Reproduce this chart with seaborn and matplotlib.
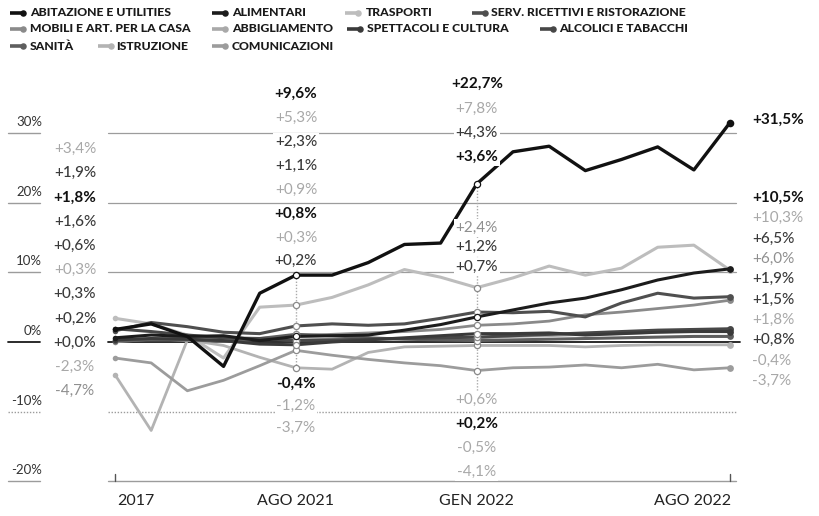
import numpy as np
import pandas as pd
import matplotlib
matplotlib.use("Agg")
import matplotlib.pyplot as plt
import seaborn as sns

# ---------------- data ----------------
categories = ["ABITAZIONE E UTILITIES", "ALIMENTARI", "TRASPORTI", "SERV. RICETTIVI E RISTORAZIONE",
              "MOBILI E ART. PER LA CASA", "ABBIGLIAMENTO", "SPETTACOLI E CULTURA", "ALCOLICI E TABACCHI",
              "SANITÀ", "ISTRUZIONE", "COMUNICAZIONI"]
periods = list(range(18))
tick_periods = [0, 5, 10, 17]
tick_labels = ["2017", "AGO 2021", "GEN 2022", "AGO 2022"]

abitazione = [1.8, 2.6, 0.8, -3.5, 7.0, 9.6, 9.6, 11.4, 14.0, 14.2, 22.7, 27.3, 28.1, 24.6, 26.2, 28.0, 24.7, 31.5]
alimentari = [0.6, 1.0, 0.8, 0.9, 0.2, 0.8, 0.9, 1.0, 1.7, 2.5, 3.6, 4.6, 5.6, 6.3, 7.5, 8.9, 9.9, 10.5]
trasporti = [3.4, 2.6, 1.0, -2.3, 5.0, 5.3, 6.4, 8.2, 10.4, 9.3, 7.8, 9.2, 10.9, 9.6, 10.6, 13.6, 13.9, 10.3]
serv_ricettivi = [1.6, 2.8, 2.2, 1.4, 1.2, 2.3, 2.6, 2.4, 2.6, 3.4, 4.3, 4.2, 4.4, 3.6, 5.6, 7.0, 6.3, 6.5]
mobili = [0.0, 0.4, 0.6, 0.3, 0.5, 0.9, 1.1, 1.3, 1.5, 1.8, 2.4, 2.6, 3.0, 3.9, 4.3, 4.8, 5.3, 6.0]
abbigliamento = [0.3, 0.5, 0.2, 0.1, 0.4, 0.3, 0.4, 0.5, 0.5, 0.6, 0.6, 0.8, 0.9, 1.1, 1.2, 1.4, 1.6, 1.8]
spettacoli = [0.3, 0.5, 0.4, 0.2, -0.3, -0.4, 0.0, 0.3, 0.6, 0.9, 1.2, 1.2, 1.3, 1.0, 1.2, 1.4, 1.5, 1.5]
alcolici = [1.9, 1.5, 1.0, 0.6, 0.5, 0.2, 0.3, 0.4, 0.5, 0.6, 0.7, 0.9, 1.1, 1.3, 1.5, 1.7, 1.8, 1.9]
sanita = [0.2, 0.3, 0.3, 0.1, 0.5, 1.1, 0.9, 0.6, 0.4, 0.3, 0.2, 0.3, 0.4, 0.5, 0.6, 0.7, 0.8, 0.8]
istruzione = [-4.7, -12.7, 0.3, -0.5, -2.2, -3.7, -3.9, -1.5, -0.7, -0.6, -0.5, -0.5, -0.5, -0.7, -0.5, -0.4, -0.4, -0.4]
comunicazioni = [-2.3, -3.0, -7.0, -5.5, -3.4, -1.2, -1.9, -2.5, -3.0, -3.4, -4.1, -3.7, -3.6, -3.3, -3.7, -3.2, -4.0, -3.7]

series = [abitazione, alimentari, trasporti, serv_ricettivi, mobili, abbigliamento,
          spettacoli, alcolici, sanita, istruzione, comunicazioni]

lab_2017 = ["+3,4%", "+1,9%", "+1,8%", "+1,6%", "+0,6%", "+0,3%", "+0,3%", "+0,2%", "+0,0%", "-2,3%", "-4,7%"]
lab_ago21 = ["+9,6%", "+5,3%", "+2,3%", "+1,1%", "+0,9%", "+0,8%", "+0,3%", "+0,2%", "-0,4%", "-1,2%", "-3,7%"]
lab_gen22 = ["+22,7%", "+7,8%", "+4,3%", "+3,6%", "+2,4%", "+1,2%", "+0,7%", "+0,6%", "+0,2%", "-0,5%", "-4,1%"]
lab_ago22 = ["+31,5%", "+10,5%", "+10,3%", "+6,5%", "+6,0%", "+1,9%", "+1,5%", "+1,8%", "+0,8%", "-0,4%", "-3,7%"]

y_ticks = [30, 20, 10, 0, -10, -20]
y_tick_labels = ["30%", "20%", "10%", "0%", "-10%", "-20%"]

# ---------------- styles ----------------
colors = ["#111111", "#1c1c1c", "#bdbdbd", "#4f4f4f", "#8a8a8a", "#a9a9a9",
          "#3a3a3a", "#474747", "#5e5e5e", "#b3b3b3", "#9c9c9c"]
widths = [2.4, 2.2, 2.2, 2.2, 2.0, 2.0, 2.2, 2.2, 2.2, 2.0, 2.0]
draw_order = [2, 9, 10, 5, 4, 8, 7, 6, 3, 1, 0]

sh_2017 = "ldkddldddlg"
sh_ago21 = "klddlkldkll"
sh_gen22 = "kldkgddlkll"
sh_ago22 = "kkldgddldll"
shade_col = {"k": "#111111", "d": "#3a3a3a", "g": "#8f8f8f", "l": "#a8a8a8"}
shade_w = {"k": "bold", "d": "medium", "g": "normal", "l": "normal"}

# pixel layout helpers
def X(px):
    return (px - 115.0) / 36.18

def Y(py):
    return (342.0 - py) / 6.967

sns.set_theme(style="white")
plt.rcParams["font.family"] = ["Lato", "DejaVu Sans"]

fig = plt.figure(figsize=(8.2, 5.16), dpi=100)
ax = fig.add_axes([0, 0, 1, 1])
ax.set_xlim(X(0), X(820))
ax.set_ylim(Y(516), Y(0))
ax.axis("off")

# gridlines
for v in [30, 20, 10]:
    ax.plot([X(108), X(736)], [v, v], color="#9c9c9c", lw=0.9, zorder=1)
ax.plot([X(108), X(740)], [0, 0], color="#1a1a1a", lw=1.3, zorder=1)
ax.plot([X(108), X(736)], [-10, -10], color="#9c9c9c", lw=1.0, ls=(0, (1, 1.2)), zorder=1)
ax.plot([X(108), X(736)], [-20, -20], color="#9c9c9c", lw=1.0, zorder=1)
for v, lab in zip(y_ticks, y_tick_labels):
    ls = (0, (1, 1.2)) if v == -10 else "-"
    c = "#1a1a1a" if v == 0 else "#9c9c9c"
    ax.plot([X(8), X(40)], [v, v], color=c, lw=1.0 if v != 0 else 1.3, ls=ls)
    ax.text(X(42), v + 11 / 6.967, lab, ha="right", va="center", fontsize=9.5, color="#333333")

# x ticks
for p in [0, 17]:
    ax.plot([p, p], [Y(474), -20], color="#555555", lw=1.0)
ax.text(X(117), Y(501), tick_labels[0], ha="left", va="center", fontsize=11.5, color="#222222")
ax.text(5, Y(501), tick_labels[1], ha="center", va="center", fontsize=11.5, color="#222222")
ax.text(10, Y(501), tick_labels[2], ha="center", va="center", fontsize=11.5, color="#222222")
ax.text(X(731), Y(501), tick_labels[3], ha="right", va="center", fontsize=11.5, color="#222222")

# vertical dotted guides
ax.plot([5, 5], [abitazione[5], Y(372)], color="#aaaaaa", lw=1.0, ls=(0, (1, 1.2)), zorder=1.5)
ax.plot([10, 10], [abitazione[10], Y(395)], color="#aaaaaa", lw=1.0, ls=(0, (1, 1.2)), zorder=1.5)

# lines
rows = []
for cat, vals in zip(categories, series):
    for p, v in zip(periods, vals):
        rows.append({"period": p, "value": v, "category": cat})
df = pd.DataFrame(rows)
for z, i in enumerate(draw_order):
    sub = df[df["category"] == categories[i]]
    sns.lineplot(data=sub, x="period", y="value", color=colors[i], lw=widths[i],
                 ax=ax, legend=False, zorder=3 + z * 0.1, solid_joinstyle="round")
    ax.scatter([0], [series[i][0]], s=16, color=colors[i], zorder=3 + z * 0.1 + 0.05, linewidths=0)
    ax.scatter([17], [series[i][17]], s=30 if i == 0 else 24, color=colors[i],
               zorder=3 + z * 0.1 + 0.05, linewidths=0)
    ax.scatter([5, 10], [series[i][5], series[i][10]], s=20, facecolor="white",
               edgecolor=colors[i] if i < 2 else "#8a8a8a", linewidths=0.9, zorder=6)

# column labels
def col_labels(labels, shades, ys, x, ha):
    for lab, sh, py in zip(labels, shades, ys):
        ax.text(x, Y(py), lab, ha=ha, va="center", fontsize=11, color=shade_col[sh],
                fontweight=shade_w[sh], zorder=7,
                bbox=dict(boxstyle="square,pad=0.12", fc="white", ec="none"))

col_labels(lab_2017, sh_2017, [149 + 24.2 * k for k in range(11)], X(75), "center")
col_labels(lab_ago21, sh_ago21, [94 + 23.9 * k for k in range(8)] + [384, 406, 428], 5, "center")
col_labels(lab_gen22, sh_gen22, [84, 109, 133, 157, 228, 247, 267, 400, 424, 448, 472], 10, "center")
col_labels(lab_ago22, sh_ago22, [120] + [198 + 20.3 * k for k in range(10)], X(752), "left")

# legend
leg_pos = [(10, 30, 13), (212, 232, 13), (345, 366, 13), (472, 491, 13),
           (10, 30, 29), (212, 232, 29), (347, 367, 29), (540, 559, 29),
           (10, 30, 46), (98, 116, 46), (212, 232, 46)]
for i, (mx, tx, ry) in enumerate(leg_pos):
    ax.plot([X(mx), X(mx + 13)], [Y(ry), Y(ry)], color=colors[i], lw=2.6, solid_capstyle="butt")
    ax.scatter([X(mx + 13)], [Y(ry)], s=22, color=colors[i], linewidths=0, zorder=5)
    ax.text(X(tx), Y(ry), categories[i], ha="left", va="center", fontsize=8.8,
            fontweight="black", color="#1a1a1a")

fig.savefig("out.png", dpi=100)
